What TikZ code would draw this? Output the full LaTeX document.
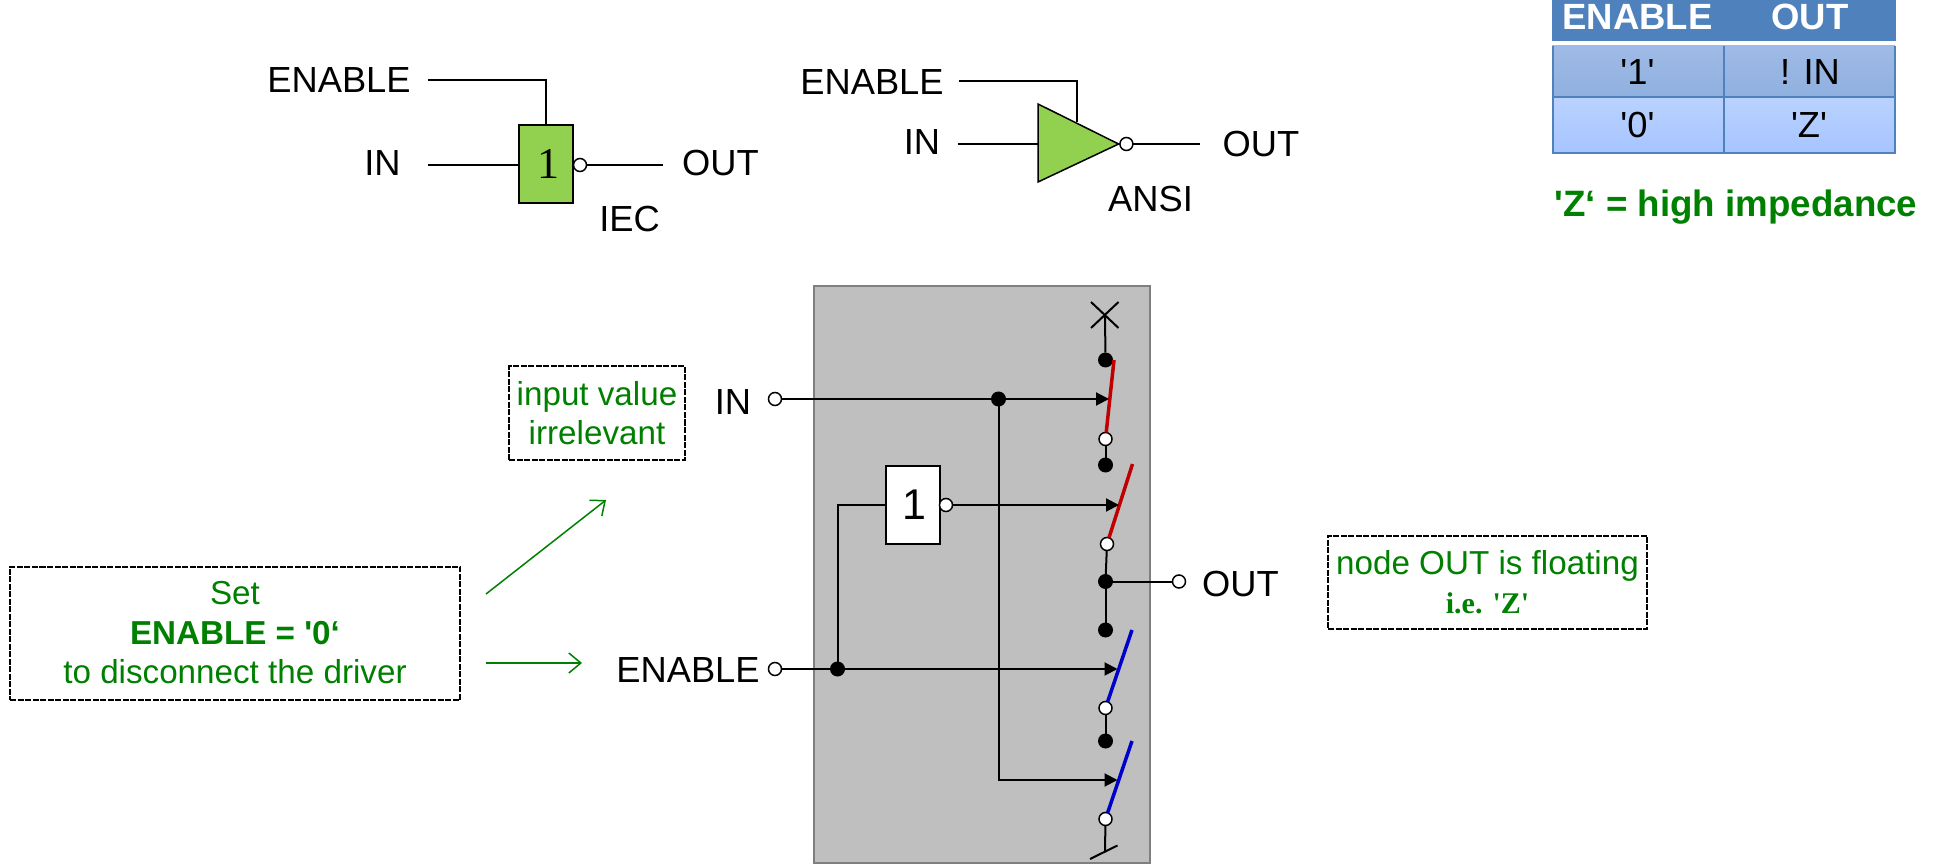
\documentclass[tikz,border=0pt]{standalone}
\usepackage{fontspec}
\usepackage{xcolor}
\usepackage{tikz}
\setmainfont{Liberation Sans}
\newfontfamily\gateserif{Liberation Serif}
\newcommand{\sqt}{\textquotesingle}
\usetikzlibrary{arrows.meta}
\definecolor{gatefill}{HTML}{92D050}
\definecolor{panelfill}{HTML}{BFBFBF}
\definecolor{paneledge}{HTML}{7F7F7F}
\definecolor{notegreen}{HTML}{008000}
\definecolor{swred}{HTML}{C00000}
\definecolor{swblue}{HTML}{0000CC}
\definecolor{tablehead}{HTML}{4F81BD}
\definecolor{rowatop}{HTML}{9FBAE6}
\definecolor{rowalow}{HTML}{8FB0DF}
\definecolor{rowbtop}{HTML}{B9D2FF}
\definecolor{rowblow}{HTML}{A6C4FF}
\tikzset{
  lbl/.style={anchor=base, inner sep=0pt, text=black, font=\fontsize{36.3}{36.3}\selectfont},
  wire/.style={line width=2pt},
  tipwire/.style={line width=2pt, -{Triangle[length=13pt,width=13pt]}},
  blade/.style={line width=3.5pt, line cap=butt},
  dotnode/.style={circle, fill=black, draw=none, minimum size=15pt, inner sep=0pt, outer sep=0pt},
  pinnode/.style={circle, fill=white, draw=black, line width=1.5pt, minimum size=13pt, inner sep=0pt, outer sep=0pt},
  notebox/.style={draw=black, line width=2pt, dash pattern=on 6pt off 1.5pt, text=notegreen, align=center, inner sep=0pt, font=\fontsize{33.2}{39.5}\selectfont},
  notearrow/.style={draw=notegreen, line width=1.5pt, -{Straight Barb[length=12pt,width=20pt,line width=1.5pt]}},
  headtext/.style={lbl, text=white, font=\fontsize{36.5}{36.5}\selectfont\bfseries},
}
\begin{document}
\begin{tikzpicture}[x=1pt,y=-1pt]
  \useasboundingbox (0,0) rectangle (1933,866);

  % IEC symbol
  \node[lbl] (enableA) at (339,93) {ENABLE};
  \node[lbl] (inA) at (382.5,176) {IN};
  \node[lbl] (outA) at (720.5,176) {OUT};
  \node[lbl] (iecA) at (629.5,232) {IEC};
  \node[draw, wire, fill=gatefill, minimum width=54pt, minimum height=78pt, inner sep=0pt, outer sep=0pt, font=\gateserif\fontsize{44}{44}\selectfont] (gateA) at (546,164) {\kern4pt 1};
  \node[pinnode] (pinA) at (580,165) {};
  \coordinate (enstartA) at (427.5,80);
  \coordinate (instartA) at (427.5,165.5);
  \coordinate (outendA) at (662.5,165);
  \draw[wire] (enstartA) -| (gateA.north);
  \draw[wire] (instartA) -- (instartA -| gateA.west);
  \draw[wire] (pinA) -- (outendA);

  % ANSI symbol
  \node[lbl] (enableB) at (872,95) {ENABLE};
  \node[lbl] (inB) at (922,155) {IN};
  \node[lbl] (outB) at (1261,157) {OUT};
  \node[lbl] (ansiB) at (1150.5,212) {ANSI};
  \coordinate (triupB) at (1038,104);
  \coordinate (trilowB) at (1038,182);
  \coordinate (triapexB) at (1118.6,144);
  \coordinate (trileftB) at (1038,144);
  \coordinate (tritopB) at (1077,122);
  \coordinate (enstartB) at (958.6,81);
  \coordinate (instartB) at (957.5,144);
  \coordinate (outendB) at (1199.6,144);
  \draw[line width=1.5pt, fill=gatefill] (triupB) -- (triapexB) -- (trilowB) -- cycle;
  \node[pinnode] (pinB) at (1126.4,144) {};
  \draw[wire] (enstartB) -| (tritopB);
  \draw[wire] (instartB) -- (trileftB);
  \draw[wire] (pinB) -- (outendB);

  % truth table
  \fill[tablehead] (1551.5,0) rectangle (1896,41);
  \shade[top color=rowatop, bottom color=rowalow] (1552,46) rectangle (1895,98);
  \shade[top color=rowbtop, bottom color=rowblow] (1552,98) rectangle (1895,153);
  \draw[tablehead, wire] (1552.5,46) -- (1552.5,154) (1724,46) -- (1724,154) (1895,46) -- (1895,154);
  \draw[tablehead, wire] (1552,97.5) -- (1896,97.5) (1552,153) -- (1896,153);
  \node[headtext] (headen) at (1637.5,29.5) {ENABLE};
  \node[headtext] (headout) at (1810,29.5) {OUT};
  \node[lbl] (rowaen) at (1637.5,84.5) {\sqt 1\sqt};
  \node[lbl] (rowaout) at (1810,84.5) {! IN};
  \node[lbl] (rowben) at (1637.5,138) {\sqt 0\sqt};
  \node[lbl] (rowbout) at (1809,138) {\sqt Z\sqt};
  \node[lbl, text=notegreen, font=\fontsize{36.7}{36.7}\selectfont\bfseries] (zlegend) at (1736,217) {\sqt Z‘ = high impedance};

  % driver
  \draw[draw=paneledge, fill=panelfill, line width=2pt] (814,286) rectangle (1150,863);

  \node[lbl] (inC) at (733,414) {IN};
  \node[lbl] (enableC) at (688,682) {ENABLE};
  \node[lbl] (outC) at (1240.5,596) {OUT};
  \node[pinnode] (pinin) at (775,399) {};
  \node[pinnode] (pinen) at (775,669) {};
  \node[pinnode] (pinout) at (1179,581.5) {};
  \node[dotnode] (juncin) at (998.5,399) {};
  \node[dotnode] (juncen) at (837.5,669) {};
  \node[dotnode] (juncout) at (1105.5,581.5) {};

  \node[draw, wire, fill=white, minimum width=54pt, minimum height=78pt, inner sep=0pt, outer sep=0pt, font=\fontsize{43}{43}\selectfont] (notC) at (912.5,505) {\kern4pt 1};
  \node[pinnode, fill=white] (pinnot) at (946,505) {};

  % contacts
  \coordinate (crossc) at (1105,315);
  \coordinate (crossa) at (1091,302);
  \coordinate (crossb) at (1118.5,328);
  \coordinate (crossd) at (1118.5,302);
  \coordinate (crosse) at (1091,328);
  \node[dotnode] (topa) at (1105.5,360) {};
  \node[pinnode] (lowa) at (1105.5,439) {};
  \node[dotnode] (topb) at (1105.5,465) {};
  \node[pinnode] (lowb) at (1107,544) {};
  \node[dotnode] (topc) at (1105.5,630) {};
  \node[pinnode] (lowc) at (1105.5,708) {};
  \node[dotnode] (topd) at (1105.5,741) {};
  \node[pinnode] (lowd) at (1105.5,819) {};
  \coordinate (gnd) at (1105,852);
  \coordinate (gnda) at (1090,859);
  \coordinate (gndb) at (1117.5,845.5);

  \coordinate (bladea) at (1114,360);
  \coordinate (bladeb) at (1132.5,464);
  \coordinate (bladec) at (1132,630);
  \coordinate (blade) at (1132,741);
  \coordinate (tipa) at (1109,399);
  \coordinate (tipb) at (1119,505);
  \coordinate (tipc) at (1117.5,669);
  \coordinate (tipd) at (1117.5,780);

  \draw[wire] (crossa) -- (crossb);
  \draw[wire] (crossd) -- (crosse);
  \draw[wire] (crossc) -- (topa);
  \draw[wire] (lowa) -- (topb);
  \draw[wire] (lowb) -- (juncout);
  \draw[wire] (juncout) -- (topc);
  \draw[wire] (lowc) -- (topd);
  \draw[wire] (lowd) -- (gnd);
  \draw[wire] (gnda) -- (gndb);
  \draw[wire] (juncout) -- (pinout);

  \draw[blade, swred] (bladea) -- (lowa);
  \draw[blade, swred] (bladeb) -- (lowb);
  \draw[blade, swblue] (bladec) -- (lowc);
  \draw[blade, swblue] (blade) -- (lowd);

  \draw[tipwire] (pinin) -- (tipa);
  \draw[tipwire] (pinnot) -- (tipb);
  \draw[tipwire] (pinen) -- (tipc);
  \draw[tipwire] (juncin) |- (tipd);
  \draw[wire] (juncen) |- (notC.west);

  % notes
  \node[notebox, minimum width=176pt, minimum height=93pt] (noteinput) at (597,413) {input value\\irrelevant};
  \node[notebox, minimum width=450pt, minimum height=133pt] (noteset) at (235,633) {Set\\\textbf{ENABLE = \sqt 0‘}\\to disconnect the driver};
  \node[notebox, minimum width=319pt, minimum height=93pt] (notefloat) at (1487.5,582) {node OUT is floating\\{\gateserif\bfseries\fontsize{30}{30}\selectfont i.e. \sqt Z\sqt}};
  \coordinate (arrowup) at (486,594);
  \coordinate (arrowupend) at (606,500);
  \coordinate (arrowen) at (486,663);
  \coordinate (arrowenend) at (582,663);
  \draw[notearrow] (arrowup) -- (arrowupend);
  \draw[notearrow] (arrowen) -- (arrowenend);
\end{tikzpicture}
\end{document}
